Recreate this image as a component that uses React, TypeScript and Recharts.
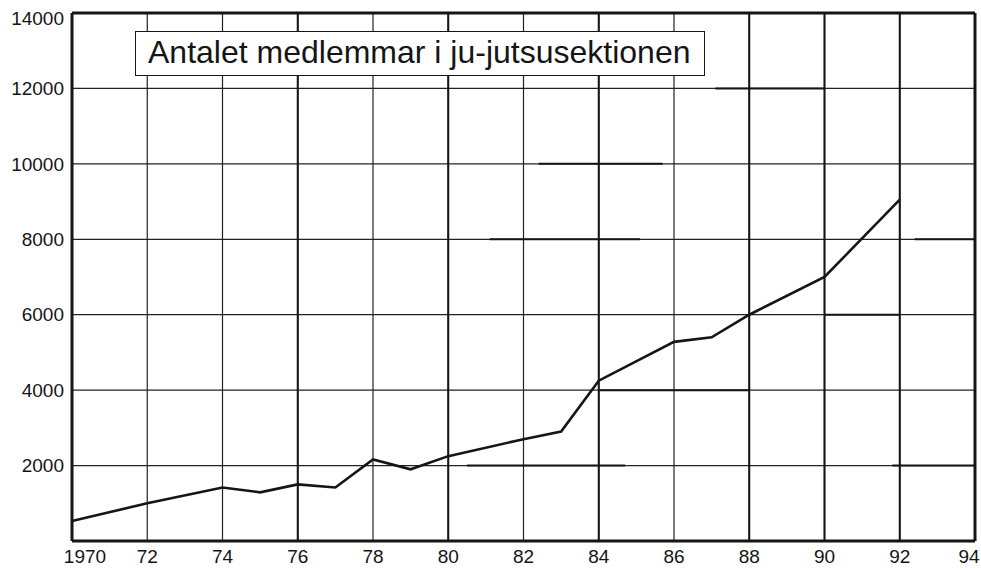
import React from 'react';
import { LineChart, Line, XAxis, YAxis, CartesianGrid, ReferenceLine } from 'recharts';

const years = [1970, 1972, 1974, 1975, 1976, 1977, 1978, 1979, 1980, 1982, 1983, 1984, 1986, 1987, 1988, 1990, 1992];
const members = [530, 1000, 1420, 1290, 1500, 1420, 2160, 1900, 2250, 2700, 2900, 4250, 5280, 5400, 6000, 7000, 9050];

const xTicks = [1970, 1972, 1974, 1976, 1978, 1980, 1982, 1984, 1986, 1988, 1990, 1992, 1994];
const yTicks = [2000, 4000, 6000, 8000, 10000, 12000, 14000];

const thickVerticals = [1976, 1980, 1984, 1988, 1990, 1992];
const thickSegY = [12000, 10000, 8000, 8000, 6000, 4000, 2000, 2000];
const thickSegX1 = [1987.1, 1982.4, 1981.1, 1992.4, 1990, 1984, 1980.5, 1991.8];
const thickSegX2 = [1990, 1985.7, 1985.1, 1994, 1992, 1988, 1984.7, 1994];

const title = 'Antalet medlemmar i ju-jutsusektionen';

const data = years.map((y, i) => ({ year: y, value: members[i] }));

const FONT = '"Liberation Sans", Arial, Helvetica, sans-serif';
const INK = '#151515';

const XTick = (props: any) => {
  const { x, y, payload } = props;
  const v = payload.value as number;
  const label = v === 1970 ? '1970' : String(v % 100);
  const dx = v === 1970 ? 13 : v === 1994 ? -6 : 0;
  return (
    <text x={x + dx} y={y} dy="0.71em" textAnchor="middle" fontFamily={FONT} fontSize={19} fill={INK}>
      {label}
    </text>
  );
};

const YTick = (props: any) => {
  const { x, y, payload } = props;
  const v = payload.value as number;
  const dy = v === 14000 ? 5 : 0;
  return (
    <text x={x} y={y + dy} dy="0.355em" textAnchor="end" fontFamily={FONT} fontSize={19} fill={INK}>
      {String(v)}
    </text>
  );
};

export default function App() {
  return (
    <div style={{ position: 'absolute', left: 0, top: 0, width: 981, height: 569, background: '#fff' }}>
      <LineChart width={981} height={569} data={data} margin={{ top: 13, right: 6, left: 0, bottom: 0 }}>
        <CartesianGrid stroke="#222" strokeWidth={1.2} />
        <XAxis
          dataKey="year"
          type="number"
          domain={[1970, 1994]}
          ticks={xTicks}
          interval={0}
          height={28}
          tickLine={false}
          tickSize={6}
          tickMargin={3}
          axisLine={{ stroke: INK, strokeWidth: 3 }}
          tick={<XTick />}
        />
        <YAxis
          type="number"
          domain={[0, 14000]}
          ticks={yTicks}
          interval={0}
          width={72}
          tickLine={false}
          tickSize={6}
          tickMargin={2}
          axisLine={{ stroke: INK, strokeWidth: 3 }}
          tick={<YTick />}
        />
        {thickVerticals.map((v) => (
          <ReferenceLine key={'tv' + v} x={v} stroke={INK} strokeWidth={2} />
        ))}
        {thickSegY.map((yv, i) => (
          <ReferenceLine
            key={'ts' + i}
            segment={[{ x: thickSegX1[i], y: yv }, { x: thickSegX2[i], y: yv }]}
            stroke={INK}
            strokeWidth={2}
          />
        ))}
        <ReferenceLine y={14000} stroke={INK} strokeWidth={3} />
        <ReferenceLine x={1994} stroke={INK} strokeWidth={3} />
        <Line
          type="linear"
          dataKey="value"
          stroke={INK}
          strokeWidth={2.6}
          dot={false}
          activeDot={false}
          isAnimationActive={false}
        />
      </LineChart>
      <div
        style={{
          position: 'absolute',
          left: 135,
          top: 31,
          width: 570,
          height: 45,
          boxSizing: 'border-box',
          border: `1.5px solid ${INK}`,
          background: '#fff',
          fontFamily: FONT,
          fontSize: 32,
          lineHeight: '40px',
          paddingLeft: 12,
          color: INK,
          whiteSpace: 'nowrap',
        }}
      >
        {title}
      </div>
    </div>
  );
}
